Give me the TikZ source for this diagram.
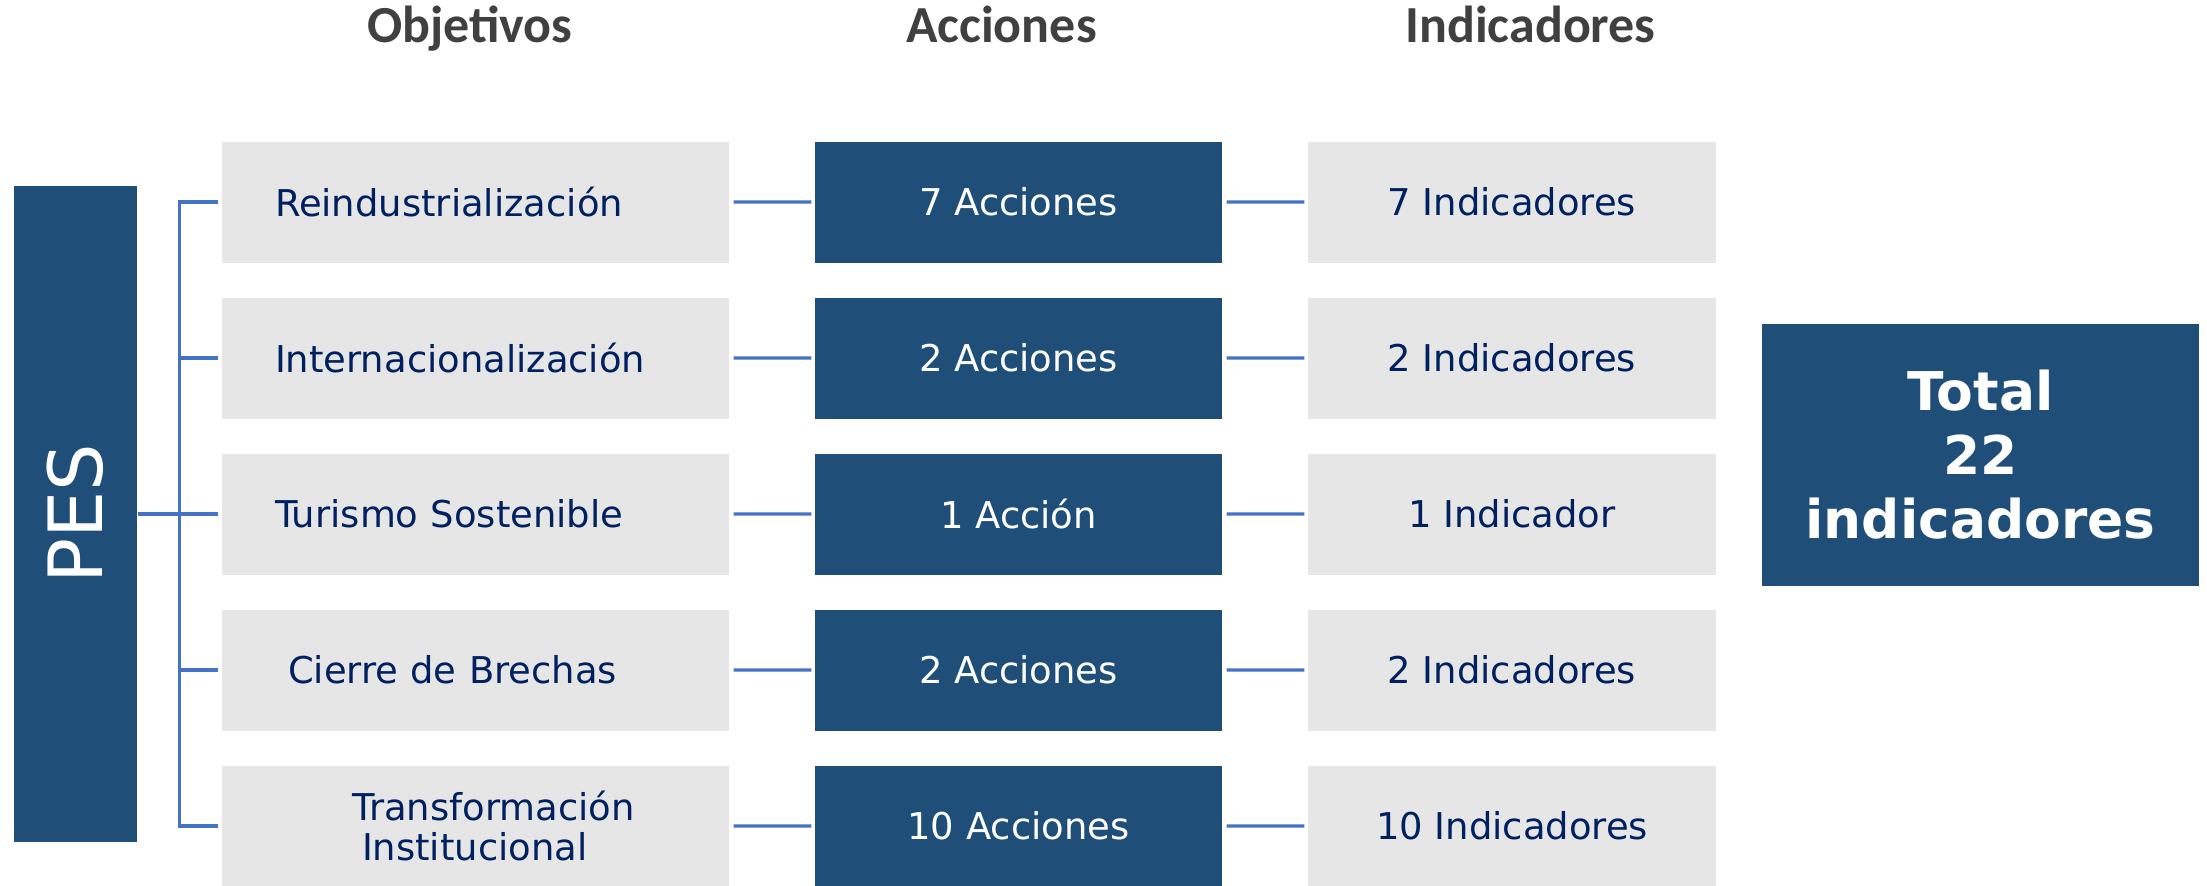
\documentclass[tikz,border=0pt]{standalone}
\usepackage{fontspec}
\setmainfont{DejaVu Sans}
\newfontfamily\headfont{Carlito}
\usetikzlibrary{positioning,trees}

\definecolor{pesblue}{HTML}{1F4E79}
\definecolor{boxgray}{HTML}{E6E6E6}
\definecolor{linkblue}{HTML}{4472C4}
\definecolor{navytext}{HTML}{002060}
\definecolor{headgray}{HTML}{404040}

\tikzset{
    objbox/.style={fill=boxgray, text=navytext, minimum width=5.07cm,
        minimum height=1.21cm, inner xsep=0.53cm, text width=4.01cm, align=left},
    actbox/.style={fill=pesblue, text=white, minimum width=4.07cm,
        minimum height=1.21cm, align=center},
    indbox/.style={fill=boxgray, text=navytext, minimum width=4.08cm,
        minimum height=1.21cm, align=center},
    pesbox/.style={fill=pesblue, text=white, minimum width=1.23cm,
        minimum height=6.56cm, font=\fontsize{21.3}{25}\selectfont},
    totalbox/.style={fill=pesblue, text=white, minimum width=4.37cm,
        minimum height=2.62cm, align=center,
        font=\fontsize{15.2}{18.2}\selectfont\bfseries},
    colhead/.style={text=headgray, anchor=base,
        font=\headfont\fontsize{14.8}{17}\selectfont\bfseries}
}

\begin{document}
\begin{tikzpicture}
            [font=\fontsize{10.5}{11.4}\selectfont, grow'=right,
            parent anchor=east, child anchor=west,
            edge from parent/.style={draw=linkblue, line width=0.9pt},
            level 1/.style={level distance=4cm, sibling distance=1.56cm,
                edge from parent path={(\tikzparentnode\tikzparentanchor)
                    -- ++(0.42cm,0) |- (\tikzchildnode\tikzchildanchor)},
                edge from parent/.append style={shorten >=0.03cm}},
            level 2/.style={level distance=5.43cm,
                edge from parent path={(\tikzparentnode\tikzparentanchor)
                    -- (\tikzchildnode\tikzchildanchor)},
                edge from parent/.append style={shorten <=0.04cm}},
            level 3/.style={level distance=4.935cm}]
            \useasboundingbox (0,0) rectangle (22.07,-8.85);
            % column titles
            \node[colhead] (hobj) at (4.70,-0.42) {Objetivos};
            \node[colhead] (hacc) at (10.015,-0.42) {Acciones};
            \node[colhead] (hind) at (15.305,-0.42) {Indicadores};
            % PES tree
            \node[pesbox] (pes) at (0.755,-5.14) {\rotatebox{90}{PES}}
                child { node[objbox] (obj1) {Reindustrialización}
                    child { node[actbox] (acc1) {7 Acciones}
                        child { node[indbox] (ind1) {7 Indicadores}}}}
                child { node[objbox] (obj2) {Internacionalización}
                    child { node[actbox] (acc2) {2 Acciones}
                        child { node[indbox] (ind2) {2 Indicadores}}}}
                child { node[objbox] (obj3) {Turismo Sostenible}
                    child { node[actbox] (acc3) {1 Acción}
                        child { node[indbox] (ind3) {1 Indicador}}}}
                child { node[objbox] (obj4) {\hspace*{0.13cm}Cierre de Brechas}
                    child { node[actbox] (acc4) {2 Acciones}
                        child { node[indbox] (ind4) {2 Indicadores}}}}
                child { node[objbox] (obj5) {\hspace*{0.77cm}Transformación\\
                        \hspace*{0.87cm}Institucional}
                    child { node[actbox] (acc5) {10 Acciones}
                        child { node[indbox] (ind5) {10 Indicadores}}}};
            \node[totalbox] (total) at (19.805,-4.55) {Total\\22\\indicadores};
\end{tikzpicture}
\end{document}
